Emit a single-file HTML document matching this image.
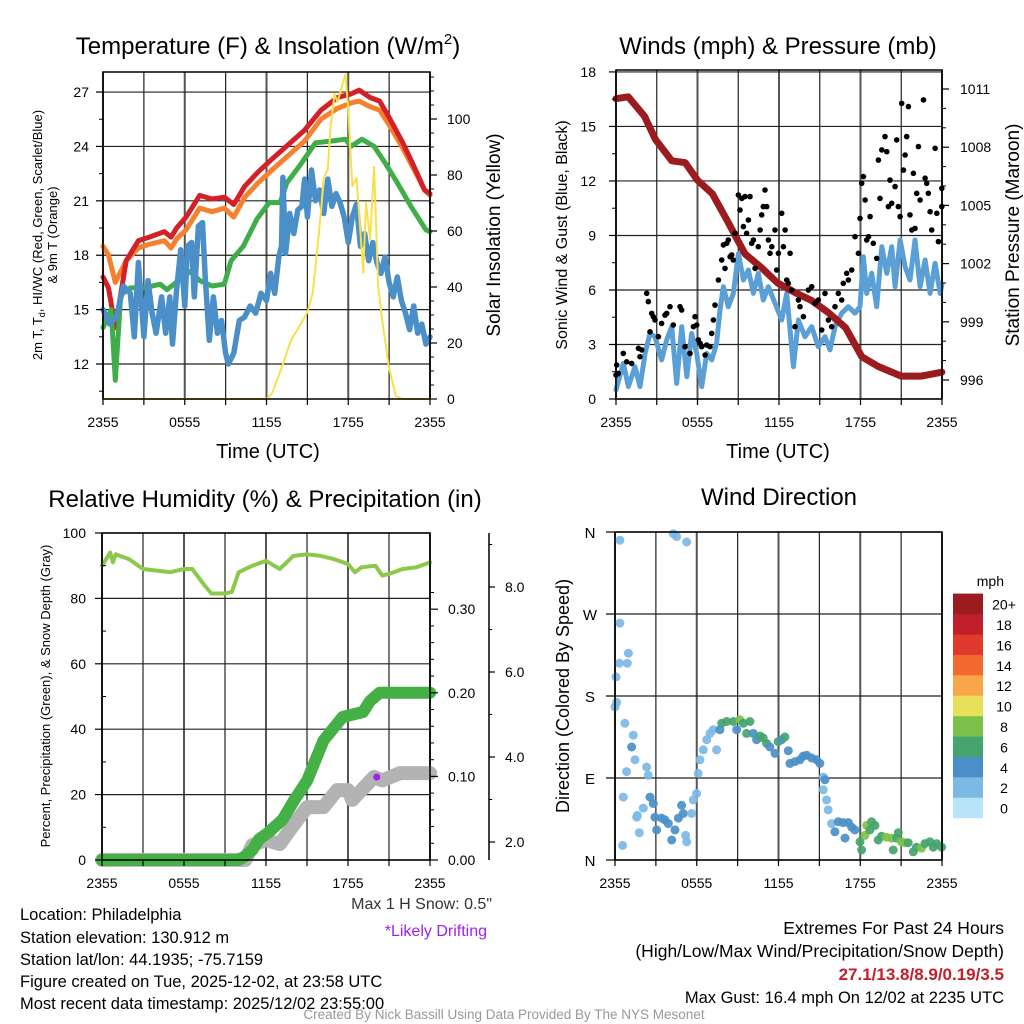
<!DOCTYPE html>
<html><head><meta charset="utf-8"><style>
html,body{margin:0;padding:0;background:#fff}
svg{display:block;font-family:"Liberation Sans",Arial,sans-serif}
</style></head><body>
<svg id="chart" width="1024" height="1024" viewBox="0 0 1024 1024" xmlns="http://www.w3.org/2000/svg">
<g id="layer-grid"></g>
<g id="layer-data"></g>
<g id="layer-axes"></g>
<g id="layer-text">
<text x="268" y="54" font-size="24" text-anchor="middle">Temperature (F) &amp; Insolation (W/m<tspan font-size="15" dy="-10">2</tspan><tspan dy="10">)</tspan></text>
<text x="268" y="458" font-size="20" text-anchor="middle">Time (UTC)</text>
<text transform="translate(42,235) rotate(-90)" font-size="13" text-anchor="middle">2m T, T<tspan font-size="9" dy="3">d</tspan><tspan dy="-3">, HI/WC (Red, Green, Scarlet/Blue)</tspan></text>
<text transform="translate(57,235) rotate(-90)" font-size="13" text-anchor="middle">&amp; 9m T (Orange)</text>
<text transform="translate(500,235) rotate(-90)" font-size="19" text-anchor="middle">Solar Insolation (Yellow)</text>
<text x="778" y="54" font-size="24" text-anchor="middle">Winds (mph) &amp; Pressure (mb)</text>
<text x="778" y="458" font-size="20" text-anchor="middle">Time (UTC)</text>
<text transform="translate(567,235) rotate(-90)" font-size="16" text-anchor="middle">Sonic Wind &amp; Gust (Blue, Black)</text>
<text transform="translate(1019,235) rotate(-90)" font-size="19" text-anchor="middle">Station Pressure (Maroon)</text>
<text x="265" y="507" font-size="24" text-anchor="middle">Relative Humidity (%) &amp; Precipitation (in)</text>
<text transform="translate(50,696) rotate(-90)" font-size="13" text-anchor="middle">Percent, Precipitation (Green), &amp; Snow Depth (Gray)</text>
<text x="779" y="505" font-size="24" text-anchor="middle">Wind Direction</text>
<text transform="translate(569,696) rotate(-90)" font-size="18" text-anchor="middle">Direction (Colored By Speed)</text>
<text x="1004" y="586" font-size="14" text-anchor="end">mph</text>
<text x="492" y="909" font-size="16" text-anchor="end" fill="#333">Max 1 H Snow: 0.5"</text>
<text x="487" y="936" font-size="16" text-anchor="end" fill="#a020f0">*Likely Drifting</text>
<text x="20" y="920" font-size="16.5">Location: Philadelphia</text>
<text x="20" y="943" font-size="16.5">Station elevation: 130.912 m</text>
<text x="20" y="965" font-size="16.5">Station lat/lon: 44.1935; -75.7159</text>
<text x="20" y="987" font-size="16.5">Figure created on Tue, 2025-12-02, at 23:58 UTC</text>
<text x="20" y="1009" font-size="16.5">Most recent data timestamp: 2025/12/02 23:55:00</text>
<text x="1004" y="934" font-size="17.5" text-anchor="end">Extremes For Past 24 Hours</text>
<text x="1004" y="957" font-size="17.5" text-anchor="end">(High/Low/Max Wind/Precipitation/Snow Depth)</text>
<text x="1004" y="980" font-size="17" font-weight="bold" text-anchor="end" fill="#c1202a">27.1/13.8/8.9/0.19/3.5</text>
<text x="1004" y="1003" font-size="16.5" text-anchor="end">Max Gust: 16.4 mph On 12/02 at 2235 UTC</text>
<text x="504" y="1019" font-size="13.5" text-anchor="middle" fill="#999">Created By Nick Bassill Using Data Provided By The NYS Mesonet</text>
</g>
</svg>
<script>
// ---------- data ----------
const xTickLabels = ["2355","0555","1155","1755","2355"];
const tempLeftTicks = [12,15,18,21,24,27];
const solarTicks = [0,20,40,60,80,100];
const windTicks = [0,3,6,9,12,15,18];
const pressTicks = [996,999,1002,1005,1008,1011];
const rhTicks = [0,20,40,60,80,100];
const precipTicks = ["0.00","0.10","0.20","0.30"];
const snowTicks = ["2.0","4.0","6.0","8.0"];
const dirLabels = ["N","E","S","W","N"];
const speedLabels = ["0","2","4","6","8","10","12","14","16","18","20+"];
const speedColors = ["#b9e3f8","#7db9e5","#4a8fc7","#45a46d","#7cc24a","#e8e05a","#f9a54a","#f26a2e","#e03a2e","#c1202a","#9b1b1e"];

const tHours = [0,0.4,0.9,1.7,2.6,3.4,4.5,5,5.4,6.1,7.1,8,8.9,9.6,10.4,11.4,12.4,13.6,14.8,16,17.2,18.2,18.8,19.6,20.3,21,22,22.7,23.6,24];
const tempRed = [16.8,16.2,14.0,17.7,18.8,19.0,19.3,19.0,19.5,20.1,21.3,21.1,21.2,20.8,21.8,22.6,23.3,24.1,24.9,26.0,26.7,26.9,27.1,26.7,26.5,25.6,24.2,23.1,21.6,21.4];
const tempOrange = [18.5,18.0,16.5,17.7,18.4,18.6,18.8,18.4,18.9,19.4,20.6,20.4,20.6,20.1,21.2,22.0,22.7,23.5,24.3,25.5,26.1,26.4,26.5,26.2,26.0,25.2,23.9,22.9,21.6,21.3];
const gHours = [0,0.6,0.9,1.3,2,3,4.2,4.7,6.4,7.1,8,8.9,9.4,10.3,11.3,12.2,13,13.5,14.4,15.6,16.8,17.8,18.2,19,19.9,20.7,21.6,22.6,23.7,24];
const tempGreen = [14.0,15.0,11.1,15.8,16.2,16.2,16.4,16.1,17.1,16.6,16.3,16.4,17.7,18.5,20.0,20.9,20.9,22.0,22.9,24.2,24.3,24.4,24.0,24.4,24.0,23.1,22.0,20.7,19.4,19.3];
const dHours = [0,0.5,1,1.5,2,2.3,2.6,3,3.3,3.6,3.9,4.3,4.6,4.9,5.1,5.4,5.7,6,6.2,6.5,6.7,7,7.3,7.5,7.8,8.1,8.4,8.7,9,9.2,9.6,10,10.4,10.8,11.2,11.6,12,12.3,12.6,12.9,13.1,13.2,13.4,13.7,14,14.3,14.6,14.8,15,15.3,15.6,15.9,16.2,16.5,16.8,17.1,17.4,17.7,18,18.3,18.6,18.9,19.2,19.5,19.8,20.1,20.4,20.7,21,21.3,21.6,21.9,22.2,22.5,22.8,23.1,23.4,23.7,24];
const dewBlue = [15.0,14.2,14.6,16.3,15.9,13.5,17.6,13.5,16.6,14.8,13.7,15.7,13.7,15.7,13.1,16.1,18.3,15.2,18.5,18.7,15.7,19.6,19.8,16.8,13.3,15.7,13.7,14.4,12.6,12.0,12.6,14.4,14.6,15.2,14.8,15.9,15.5,17.0,15.9,17.9,18.5,22.3,18.1,20.3,19.2,20.5,20.7,22.2,20.1,22.7,21.0,21.6,20.3,22.2,20.7,21.4,20.9,20.1,18.7,20.1,20.8,18.5,19.2,17.7,18.7,17.6,17.0,17.9,16.5,15.7,16.8,15.5,14.8,13.9,15.2,13.7,14.2,13.1,13.5];
const sHours = [0,12,12.4,13.1,13.8,14.3,15,15.4,15.7,16,16.2,16.5,16.7,17,17.2,17.5,17.8,18,18.3,18.6,18.8,19.1,19.3,19.6,19.9,20.2,20.5,21,21.5,22,24];
const solar = [0,0,2,11,21,25,31,38,52,67,79,82,97,109,106,111,116,103,76,79,66,45,70,57,83,40,28,11,1,0,0];

const pHours = [0,0.9,2.1,2.9,4.1,5.1,6.0,7.1,8.2,9.5,10.7,11.9,13.2,14.4,15.6,16.9,18.1,19.3,21,22.5,24];
const pressure = [1010.5,1010.6,1009.6,1008.4,1007.3,1007.2,1006.3,1005.6,1004.2,1002.5,1001.8,1001.0,1000.5,1000.1,999.5,998.7,997.2,996.7,996.2,996.2,996.4];
const wHours = [0,0.54,0.91,1.4,1.77,2.14,2.5,2.87,3.36,3.73,4.1,4.47,4.84,5.21,5.57,5.94,6.31,6.68,7.05,7.41,7.66,7.91,8.27,8.64,9.01,9.38,9.75,10.12,10.48,10.85,11.22,11.71,12.2,12.57,13.06,13.43,13.92,14.41,14.9,15.39,15.76,16.13,16.62,17.11,17.6,17.97,18.22,18.46,18.83,19.2,19.57,19.94,20.3,20.55,20.92,21.29,21.65,22.02,22.39,22.76,23.13,23.5,23.87,24];
const windSpeed = [0.5,1.96,0.68,1.78,0.68,2.51,3.61,3.43,2.15,3.25,3.98,0.86,3.98,1.23,3.61,2.51,0.68,2.51,2.15,3.06,4.9,6.18,5.08,5.81,8.0,6.55,7.1,5.81,6.92,5.45,6.18,5.27,4.35,5.81,1.78,4.35,3.43,3.98,2.88,3.43,2.7,3.98,4.72,5.08,4.72,5.08,7.83,5.81,6.92,5.08,8.38,6.92,8.38,6.18,8.75,7.28,6.55,8.75,6.18,7.65,5.81,7.47,5.81,6.3];
const gustHours = [0,0.05,0.17,0.54,0.79,1.15,1.65,1.77,1.89,2.26,2.38,2.5,2.63,2.75,2.87,3.12,3.36,3.61,3.73,3.98,4.22,4.71,4.84,5.08,5.45,5.7,5.82,5.94,6.06,6.19,6.31,6.56,6.68,6.92,7.05,7.17,7.29,7.54,7.78,7.91,8.03,8.15,8.27,8.4,8.52,8.64,8.76,9.01,9.13,9.26,9.38,9.5,9.62,9.75,9.87,9.99,10.12,10.24,10.48,10.61,10.73,10.85,10.97,11.1,11.22,11.34,11.47,11.71,11.83,11.96,12.2,12.33,12.45,12.57,12.69,12.82,12.94,13.18,13.43,13.55,13.8,14.17,14.41,14.66,14.9,15.15,15.39,15.64,15.88,16.13,16.37,16.62,16.74,16.99,17.11,17.36,17.6,17.85,17.97,18.09,18.22,18.34,18.46,18.59,18.71,18.95,19.2,19.32,19.44,19.57,19.81,19.94,20.06,20.18,20.3,20.55,20.67,20.79,20.92,21.04,21.16,21.29,21.41,21.53,21.65,21.78,21.9,22.02,22.14,22.27,22.39,22.64,22.76,22.88,23.0,23.13,23.25,23.5,23.62,23.74,23.99,23.99];
const gustSpeed = [1.32,1.87,1.41,2.51,2.05,1.96,2.79,2.33,2.7,5.82,5.36,3.7,4.71,4.53,4.35,3.43,4.16,4.62,4.71,5.08,4.07,5.08,4.9,2.88,2.51,3.98,4.53,4.07,3.25,3.06,2.88,2.42,2.97,2.88,3.61,4.35,5.17,6.55,7.65,8.48,7.19,8.57,8.75,7.83,7.93,7.65,9.12,11.23,10.4,11.04,9.49,11.14,9.12,9.85,11.14,8.57,8.75,7.19,8.38,9.3,10.13,10.59,11.5,10.59,8.75,8.02,8.38,9.3,7.1,8.02,10.22,8.38,9.3,6.55,6.37,8.02,6.0,3.98,5.45,5.08,4.53,6.0,6.18,5.27,5.45,3.8,5.81,4.35,3.98,5.08,5.81,5.45,6.37,6.92,6.55,7.1,8.93,8.02,9.94,11.87,12.24,10.95,8.75,8.93,10.04,8.57,7.74,13.15,11.04,13.71,14.44,13.61,10.59,12.05,10.77,11.69,14.26,10.59,10.04,16.27,12.6,13.43,14.44,16.09,10.13,9.3,12.42,9.39,11.32,13.89,10.95,16.46,12.15,11.87,11.32,10.31,9.3,13.8,10.22,8.66,11.59,10.59];

const rhHours = [0,0.3,0.6,0.8,1,1.3,2,3,4,5,6,6.6,7.5,8,9,9.5,10,11,12,13,14,15,16,17,18,18.5,19,20,20.5,21,22,23,24];
const rhValues = [90,92,94,91,93.5,93,92,89,88.5,88,89,89,84,81.5,81.5,82,88,90,91.5,89,93,93.5,93,92,90.5,88,89.5,90,87,87.5,89,89.5,91];
const prHours = [0,10,10.5,11,11.5,12.1,13.2,14,15,16.2,17.6,19.1,19.6,20.3,24];
const precip = [0,0,0.005,0.012,0.025,0.032,0.048,0.07,0.095,0.143,0.171,0.177,0.19,0.2,0.2];
const snHours = [0,10.5,11,12,13,13.9,15,16.2,17.2,18,18.3,19.9,20.5,21.8,24];
const snowDepth = [1.58,1.58,1.93,2.05,1.95,2.35,2.82,2.82,3.22,3.22,2.99,3.53,3.45,3.62,3.62];
const driftHour = [20.1];
const driftSnow = [3.53];

const dirHours = [0.36,0.0,0.07,0.32,0.36,0.98,0.9,0.12,0.73,1.34,1.22,0.85,1.47,0.61,0.56,1.59,1.64,1.78,2.08,2.32,2.44,2.57,2.81,2.93,3.06,3.42,3.67,3.91,4.16,4.4,4.65,4.89,5.01,5.18,5.26,5.62,5.75,5.99,6.11,6.24,6.48,6.73,6.97,7.21,7.46,7.7,7.83,8.19,8.68,8.93,9.17,9.42,9.66,9.9,10.15,10.39,10.64,10.88,11.13,11.37,11.74,11.98,12.23,12.47,12.72,12.84,13.21,13.57,13.82,14.06,14.43,14.8,15.04,15.29,15.41,15.29,15.53,15.65,15.9,16.14,16.39,16.75,16.88,17.12,17.37,17.61,17.98,18.1,18.34,18.47,18.71,18.83,19.08,19.32,19.57,19.93,20.3,20.42,20.67,20.79,21.03,21.28,21.52,21.89,22.13,22.5,22.75,23.11,23.36,23.6,23.97,4.28,4.52,5.26];
const dirDeg = [351,168,201,216,260,227,216,173,150,137,124,97,110,69,16,47,49,30,57,102,93,69,62,47,33,46,44,40,22,33,46,60,51,27,20,51,66,73,95,110,121,132,139,143,121,143,150,152,152,143,154,150,139,152,139,132,136,134,128,124,117,130,132,135,120,106,108,110,114,115,112,110,106,91,88,77,66,55,40,31,42,41,24,41,36,33,20,11,27,38,33,42,38,22,26,25,24,11,24,30,20,19,19,9,14,13,18,20,14,18,14,358,355,349];
const dirSpeed = [1,1,1,1,1,1,1,1,1,1.5,3,1,1,1,1,1.5,2,2,1,2,2,3,4,3,3,3,4,4,4,3,3,4,3,1,1,2,2,2,2,1,2,2,2,2,2,4,6,6,6,4,7,6,6,6,4,3.5,6,6,6,4,4,6,4,6,4,4,4,4,4,4,4,4,4,2,4,2,1,2,1,4,4,4,4,4,4,3,6,6,8,8,6,6,6,6,6,8,8,6,6,6,8,8,6,6,6,8,6,6,6,6,6,1,1,1];

// ---------- helpers ----------
const NS = "http://www.w3.org/2000/svg";
const gGrid = document.getElementById("layer-grid");
const gData = document.getElementById("layer-data");
const gAxes = document.getElementById("layer-axes");
function mk(tag, parent, attrs) {
  const e = document.createElementNS(NS, tag);
  for (const k in attrs) e.setAttribute(k, attrs[k]);
  parent.appendChild(e);
  return e;
}
function line(parent, x1, y1, x2, y2, stroke, w, name) {
  const e = mk("line", parent, {x1:x1, y1:y1, x2:x2, y2:y2, stroke:stroke, "stroke-width":w});
  
  
  return e;
}
function label(parent, x, y, txt, anchor, size, name) {
  const e = mk("text", parent, {x:x, y:y, "text-anchor":anchor, "font-size":size});
  e.textContent = txt;
  
  
  return e;
}
function series(xs, ys, fx, fy, stroke, w, name) {
  const pts = xs.map((h, i) => fx(h).toFixed(1) + "," + fy(ys[i]).toFixed(1)).join(" ");
  const e = mk("polyline", gData, {points:pts, fill:"none", stroke:stroke, "stroke-width":w, "stroke-linejoin":"round", "stroke-linecap":"round"});
  
  
  return e;
}
function frame(x0, x1, y0, y1, name) {
  const e = mk("rect", gAxes, {x:x0, y:y0, width:x1-x0, height:y1-y0, fill:"none", stroke:"#000", "stroke-width":1.5});
  
  
}
function timeAxis(x0, x1, y0, y1, prefix) {
  for (let i = 0; i <= 8; i++) {
    const x = x0 + (x1 - x0) * i / 8;
    line(gGrid, x, y0, x, y1, i % 2 ? "#222" : "#555", i % 2 ? 1.2 : 2, prefix + "-vgrid");
    line(gAxes, x, y1, x, y1 + 6, "#000", 1.2, prefix + "-x-tick");
  }
  xTickLabels.forEach((t, i) => {
    label(gAxes, x0 + (x1 - x0) * i / 4, y1 + 28, t, "middle", 14, prefix + "-x-tick-label");
  });
}

// ---------- panel 1: temperature ----------
const xT = h => 103 + h * 13.625;
const yT = t => 364 - (t - 12) * 18.13;
const yS = w => 399 - w * 2.8;
timeAxis(103, 430, 72, 399, "temp");
tempLeftTicks.forEach(t => {
  line(gGrid, 103, yT(t), 430, yT(t), "#222", 1.2, "temp-hgrid");
  line(gAxes, 96, yT(t), 103, yT(t), "#000", 1.2, "temp-y-tick");
  label(gAxes, 89, yT(t) + 5, String(t), "end", 14, "temp-y-tick-label");
  if (yT(t + 1.5) > 74) line(gAxes, 99, yT(t + 1.5), 103, yT(t + 1.5), "#000", 1, "temp-minor-tick");
});
line(gAxes, 99, yT(10.5), 103, yT(10.5), "#000", 1, "temp-minor-tick");
solarTicks.forEach(w => {
  line(gAxes, 430, yS(w), 437, yS(w), "#000", 1.2, "solar-y-tick");
  label(gAxes, 447, yS(w) + 5, String(w), "start", 14, "solar-y-tick-label");
  for (let k = 1; k < 4; k++) if (yS(w + k * 5) > 74) line(gAxes, 430, yS(w + k * 5), 434, yS(w + k * 5), "#000", 1, "solar-minor-tick");
});
series(tHours, tempOrange, xT, yT, "#f5812e", 5, "temp-9m-orange-line");
series(tHours, tempRed, xT, yT, "#d42027", 5, "temp-2m-red-line");
series(gHours, tempGreen, xT, yT, "#3fae49", 5, "temp-green-line");
series(dHours, dewBlue, xT, yT, "#4a8fc7", 5.5, "dewpoint-blue-line");
series(sHours, solar, xT, yS, "#f9e04b", 2, "solar-yellow-line");
frame(103, 430, 72, 399, "temp-plot-frame");

// ---------- panel 2: winds ----------
const xW = h => 616 + h * 13.58;
const yV = v => 399 - v * 18.17;
const yP = p => 380 - (p - 996) * 19.4;
timeAxis(616, 942, 70, 399, "wind");
windTicks.forEach(v => {
  line(gGrid, 616, yV(v), 942, yV(v), "#222", 1.2, "wind-hgrid");
  line(gAxes, 609, yV(v), 616, yV(v), "#000", 1.2, "wind-y-tick");
  label(gAxes, 596, yV(v) + 5, String(v), "end", 14, "wind-y-tick-label");
  if (v < 18) line(gAxes, 612, yV(v + 1.5), 616, yV(v + 1.5), "#000", 1, "wind-minor-tick");
});
pressTicks.forEach(p => {
  line(gAxes, 942, yP(p), 949, yP(p), "#000", 1.2, "pressure-y-tick");
  label(gAxes, 960, yP(p) + 5, String(p), "start", 14, "pressure-y-tick-label");
  for (let k = 1; k < 3; k++) if (yP(p + k) > 72) line(gAxes, 942, yP(p + k), 946, yP(p + k), "#000", 1, "pressure-minor-tick");
});
series(wHours, windSpeed, xW, yV, "#5a9fd6", 5, "sonic-wind-blue-line");
series(pHours, pressure, xW, yP, "#9b1b1e", 7, "pressure-maroon-line");
gustHours.forEach((h, i) => {
  const c = mk("circle", gData, {cx:xW(h).toFixed(1), cy:yV(gustSpeed[i]).toFixed(1), r:2.8, fill:"#000"});
  
  
});
frame(616, 942, 70, 399, "wind-plot-frame");

// ---------- panel 3: humidity / precip ----------
const xR = h => 102 + h * 13.67;
const yR = r => 860 - r * 3.27;
const yPr = p => 860 - p * 836;
const ySn = s => Math.min(860, 842 - (s - 2) * 42.5);
timeAxis(102, 430, 533, 860, "humidity");
rhTicks.forEach(r => {
  line(gGrid, 102, yR(r), 430, yR(r), "#222", 1.2, "humidity-hgrid");
  line(gAxes, 95, yR(r), 102, yR(r), "#000", 1.2, "humidity-y-tick");
  label(gAxes, 86, yR(r) + 5, String(r), "end", 14, "humidity-y-tick-label");
  if (r < 100) line(gAxes, 102, yR(r + 10), 106, yR(r + 10), "#000", 1, "humidity-minor-tick");
});
precipTicks.forEach((p, i) => {
  const y = yPr(parseFloat(p));
  line(gAxes, 430, y, 438, y, "#000", 1.2, "precip-y-tick");
  label(gAxes, 448, y + 5, p, "start", 14, "precip-y-tick-label");
  for (let k = 1; k < 5; k++) if (parseFloat(p) + k * 0.02 < 0.33) line(gAxes, 430, yPr(parseFloat(p) + k * 0.02), 434, yPr(parseFloat(p) + k * 0.02), "#000", 1, "precip-minor-tick");
});
line(gAxes, 489, 533, 489, 860, "#000", 1.5, "snow-axis-line");
snowTicks.forEach(s => {
  const y = ySn(parseFloat(s));
  line(gAxes, 489, y, 495, y, "#000", 1.2, "snow-y-tick");
  label(gAxes, 505, y + 5, s, "start", 14, "snow-y-tick-label");
  line(gAxes, 489, ySn(parseFloat(s) + 1), 492, ySn(parseFloat(s) + 1), "#000", 1, "snow-minor-tick");
});
series(snHours, snowDepth, xR, ySn, "#b3b3b3", 14, "snow-depth-gray-line");
series(prHours, precip, xR, yPr, "#45b046", 12, "precip-green-line");
series(rhHours, rhValues, xR, yR, "#8cc84b", 4, "humidity-green-line");
driftHour.forEach((h, i) => {
  const d = mk("circle", gData, {cx:xR(h), cy:ySn(driftSnow[i]), r:3.5, fill:"#a020f0"});
  
  
});
frame(102, 430, 533, 860, "humidity-plot-frame");

// ---------- panel 4: wind direction ----------
const xD = h => 615 + h * 13.625;
const yD = d => 860 - d * 0.9111;
timeAxis(615, 942, 532, 860, "direction");
dirLabels.forEach((l, i) => {
  const y = yD(i * 90);
  line(gGrid, 615, y, 942, y, "#222", 1.2, "direction-hgrid");
  line(gAxes, 606, y, 615, y, "#000", 1.2, "direction-y-tick");
  label(gAxes, 590, y + 6, l, "middle", 15, "direction-y-tick-label");
});
dirHours.forEach((h, i) => {
  const ci = Math.min(10, Math.floor((dirSpeed[i] + 1) / 2));
  const c = mk("circle", gData, {cx:xD(h).toFixed(1), cy:yD(dirDeg[i]).toFixed(1), r:4.5, fill:speedColors[ci], "fill-opacity":0.92});
  
  
});
frame(615, 942, 532, 860, "direction-plot-frame");

// colorbar
speedLabels.forEach((s, i) => {
  const y = 818 - (i + 1) * 20.4;
  const r = mk("rect", gAxes, {x:953, y:y.toFixed(1), width:30, height:20.6, fill:speedColors[i]});
  
  
  label(gAxes, 1004, y + 16, s, "middle", 14, "colorbar-label");
});
</script>
</body></html>
